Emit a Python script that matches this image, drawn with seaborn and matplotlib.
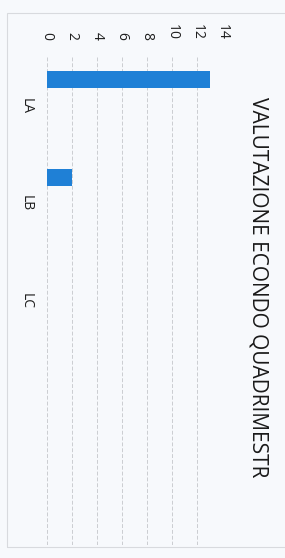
import matplotlib
matplotlib.use("Agg")
import matplotlib.pyplot as plt
import seaborn as sns
import pandas as pd
from matplotlib.patches import Rectangle

title = "VALUTAZIONE ECONDO QUADRIMESTR"
categories = ["LA", "LB", "LC"]
series_names = ["S1", "S2", "S3", "S4"]
s1 = [13, 2, 0]
s2 = [0, 0, 0]
s3 = [0, 0, 0]
s4 = [0, 0, 0]
xticks = [0, 2, 4, 6, 8, 10, 12, 14]

rows = []
for name, vals in zip(series_names, [s1, s2, s3, s4]):
    for c, v in zip(categories, vals):
        rows.append({"category": c, "series": name, "value": v})
df = pd.DataFrame(rows)

sns.set_theme(style="white")
plt.rcParams['font.family'] = ['Open Sans', 'DejaVu Sans']

bg = '#f7f9fc'
fig = plt.figure(figsize=(2.85, 5.58), dpi=100, facecolor=bg)
ax = fig.add_axes([0.165, 0.0233, 0.614, 0.875])
ax.set_facecolor(bg)

blue = '#1f80d6'
sns.barplot(data=df, x="value", y="category", hue="series", orient="h",
            width=0.7, palette=[blue, blue, blue, blue], legend=False,
            saturation=1, ax=ax, errorbar=None, edgecolor='none', linewidth=0)

ax.set_xlim(0, 14)
ax.set_ylim(4.5, -0.5)
ax.set_xticks(xticks)
ax.xaxis.tick_top()
ax.set_xticklabels([str(t) for t in xticks], rotation=-90, fontsize=10,
                   color='#1e1e1e', va='bottom', ha='center')
ax.tick_params(axis='x', which='both', length=0, pad=12)
ax.set_yticks(range(len(categories)))
ax.set_yticklabels(categories, rotation=-90, fontsize=10, color='#1e1e1e',
                   va='center', ha='right')
ax.tick_params(axis='y', which='both', length=0, pad=10)
ax.set_xlabel("")
ax.set_ylabel("")
ax.grid(axis='x', color='#cbcdd1', linestyle=(0, (4, 2)), linewidth=0.7)
ax.set_axisbelow(True)
for s in ax.spines.values():
    s.set_visible(False)

fig.text(0.906, 0.486, title, rotation=-90, fontsize=15, color='#1a1a1a',
         ha='center', va='center')

fig.patches.append(Rectangle((7 / 285, 11 / 558), 1.0, 1 - 24 / 558,
                             transform=fig.transFigure, fill=False,
                             edgecolor='#d8dade', linewidth=0.8))

fig.savefig("out.png", dpi=100, facecolor=bg)
